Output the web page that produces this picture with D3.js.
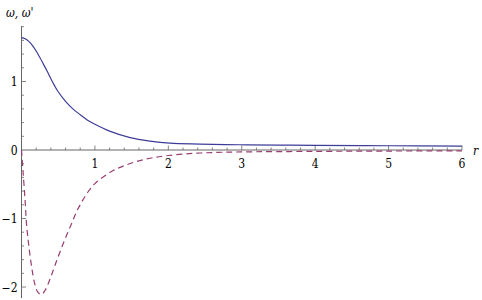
<!DOCTYPE html>
<html>
<head>
<meta charset="utf-8">
<script src="https://cdn.jsdelivr.net/npm/d3@7"></script>
<style>
  body { margin: 0; background: #fff; }
  text { font-family: "DejaVu Serif Condensed", "DejaVu Serif", serif; }
</style>
</head>
<body>
<div id="chart"></div>
<script>
// omega (solid)
var rOmega = [0, 0.05, 0.1, 0.15, 0.2, 0.25, 0.3, 0.35, 0.4, 0.45, 0.5, 0.6, 0.7, 0.8, 0.9, 1.0, 1.2, 1.48, 1.75, 2.02, 2.43, 2.97, 3.5, 4, 5, 6];
var omega = [1.64, 1.625, 1.585, 1.525, 1.445, 1.35, 1.25, 1.15, 1.04, 0.94, 0.85, 0.71, 0.60, 0.515, 0.435, 0.375, 0.275, 0.18, 0.13, 0.10, 0.087, 0.077, 0.072, 0.068, 0.062, 0.057];
// omega' (dashed)
var rOmegaP = [0, 0.02, 0.05, 0.07, 0.1, 0.14, 0.18, 0.22, 0.27, 0.32, 0.39, 0.45, 0.52, 0.6, 0.68, 0.75, 0.82, 0.9, 1.0, 1.25, 1.5, 1.75, 2.0, 2.33, 2.66, 3, 4, 5, 6];
var omegaP = [0, -0.30, -0.75, -1.1, -1.4, -1.72, -1.95, -2.07, -2.11, -2.05, -1.88, -1.70, -1.50, -1.28, -1.08, -0.90, -0.76, -0.62, -0.49, -0.30, -0.19, -0.12, -0.08, -0.05, -0.035, -0.028, -0.02, -0.015, -0.012];
var xTicks = [1, 2, 3, 4, 5, 6];
var yTicks = [-2, -1, 0, 1];

var width = 482, height = 300;

var svg = d3.select("#chart")
  .append("svg")
  .attr("width", width)
  .attr("height", height);

// scales
var x = d3.scaleLinear().domain([0, 6]).range([21.5, 462]);
var y = d3.scaleLinear().domain([-2.16, 1.81]).range([298, 26]);

var axisColor = "#666";

// minor + major ticks on x axis (pointing up)
var xMinor = d3.range(0.2, 6.01, 0.2);
svg.append("g").selectAll("line")
  .data(xMinor)
  .enter().append("line")
  .attr("x1", d => x(d)).attr("x2", d => x(d))
  .attr("y1", y(0))
  .attr("y2", d => Math.abs(d - Math.round(d)) < 1e-6 ? y(0) - 4.5 : y(0) - 2.5)
  .attr("stroke", axisColor).attr("stroke-width", 0.8);

// y ticks (pointing right)
var yMinor = d3.range(-2.0, 1.81, 0.2).filter(d => Math.abs(d) > 1e-6);
svg.append("g").selectAll("line")
  .data(yMinor)
  .enter().append("line")
  .attr("x1", x(0))
  .attr("x2", d => Math.abs(d - Math.round(d)) < 1e-6 ? x(0) + 4.5 : x(0) + 2.5)
  .attr("y1", d => y(d)).attr("y2", d => y(d))
  .attr("stroke", axisColor).attr("stroke-width", 0.8);

// axis lines
svg.append("line")
  .attr("x1", x(0)).attr("x2", x(6))
  .attr("y1", y(0)).attr("y2", y(0))
  .attr("stroke", axisColor).attr("stroke-width", 1);
svg.append("line")
  .attr("x1", x(0)).attr("x2", x(0))
  .attr("y1", y(1.81)).attr("y2", y(-2.16))
  .attr("stroke", axisColor).attr("stroke-width", 1);

// tick labels
svg.append("g").selectAll("text")
  .data(xTicks)
  .enter().append("text")
  .attr("x", d => x(d))
  .attr("y", y(0) + 18)
  .attr("text-anchor", "middle")
  .attr("font-size", 12)
  .text(d => d);

svg.append("g").selectAll("text")
  .data(yTicks)
  .enter().append("text")
  .attr("x", x(0) - 4)
  .attr("y", d => y(d) + 4.5)
  .attr("text-anchor", "end")
  .attr("font-size", 12)
  .text(d => d < 0 ? "\u2212" + Math.abs(d) : d);

// axis labels
svg.append("text")
  .attr("x", 6).attr("y", 17)
  .attr("font-size", 12)
  .attr("font-style", "italic")
  .text("\u03c9, \u03c9'");
svg.append("text")
  .attr("x", 473).attr("y", 155)
  .attr("font-size", 12)
  .attr("font-style", "italic")
  .text("r");

// curves
var line = d3.line()
  .x(d => x(d[0]))
  .y(d => y(d[1]))
  .curve(d3.curveCatmullRom);

svg.append("path")
  .datum(d3.zip(rOmega, omega))
  .attr("d", line)
  .attr("fill", "none")
  .attr("stroke", "#3d3d99")
  .attr("stroke-width", 1.2);

svg.append("path")
  .datum(d3.zip(rOmegaP, omegaP))
  .attr("d", line)
  .attr("fill", "none")
  .attr("stroke", "#993d71")
  .attr("stroke-width", 1.2)
  .attr("stroke-dasharray", "6,4");
</script>
</body>
</html>
